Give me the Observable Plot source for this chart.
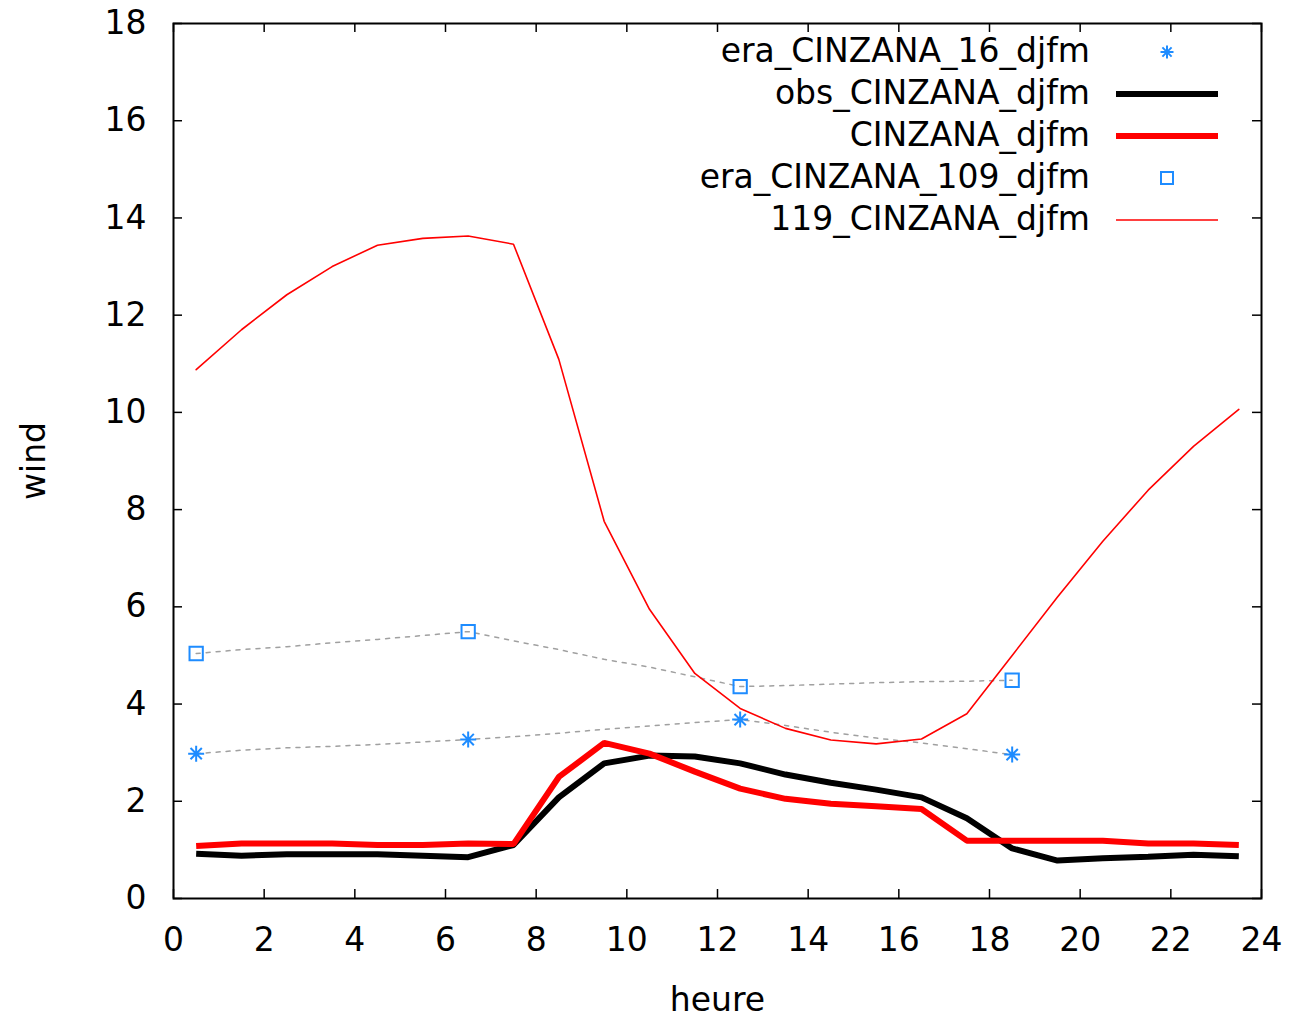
<!DOCTYPE html>
<html>
<head>
<meta charset="utf-8">
<script src="https://cdn.jsdelivr.net/npm/d3@7"></script>
<script src="https://cdn.jsdelivr.net/npm/@observablehq/plot@0.6"></script>
<style>
  body { margin: 0; background: #fff; }
  #chart svg { font-family: "DejaVu Sans", sans-serif; display: block; }
</style>
</head>
<body>
<div id="chart"></div>
<script>
// ---- data ----
const hours = [0.5, 1.5, 2.5, 3.5, 4.5, 5.5, 6.5, 7.5, 8.5, 9.5, 10.5, 11.5,
               12.5, 13.5, 14.5, 15.5, 16.5, 17.5, 18.5, 19.5, 20.5, 21.5, 22.5, 23.5];
const obsCinzana = [0.92, 0.88, 0.91, 0.91, 0.91, 0.88, 0.85, 1.10, 2.08, 2.78, 2.94, 2.92,
                    2.78, 2.55, 2.38, 2.24, 2.08, 1.65, 1.03, 0.78, 0.83, 0.86, 0.90, 0.87];
const cinzana = [1.08, 1.13, 1.13, 1.13, 1.10, 1.10, 1.13, 1.12, 2.50, 3.20, 2.98, 2.61,
                 2.26, 2.05, 1.95, 1.90, 1.84, 1.19, 1.19, 1.19, 1.19, 1.13, 1.13, 1.10];
const cinzana119 = [10.88, 11.70, 12.42, 13.00, 13.44, 13.58, 13.63, 13.46, 11.09, 7.76, 5.95, 4.63,
                    3.91, 3.50, 3.26, 3.18, 3.28, 3.80, 5.00, 6.20, 7.35, 8.40, 9.30, 10.06];

const eraHours = [0.5, 1.5, 2.5, 3.5, 4.5, 5.5, 6.5, 7.5, 8.5, 9.5, 10.5, 11.5,
                  12.5, 13.5, 14.5, 15.5, 16.5, 17.5, 18.5];
const era16Line = [2.98, 3.05, 3.10, 3.13, 3.17, 3.22, 3.27, 3.33, 3.40, 3.48, 3.55, 3.62,
                   3.68, 3.56, 3.42, 3.30, 3.20, 3.08, 2.96];
const era109Line = [5.04, 5.12, 5.18, 5.26, 5.33, 5.41, 5.49, 5.30, 5.12, 4.92, 4.76, 4.56,
                    4.36, 4.38, 4.41, 4.44, 4.46, 4.47, 4.49];

const markerHours = [0.5, 6.5, 12.5, 18.5];
const era16Markers = [2.98, 3.27, 3.68, 2.96];
const era109Markers = [5.04, 5.49, 4.36, 4.49];

const xTicks = [0, 2, 4, 6, 8, 10, 12, 14, 16, 18, 20, 22, 24];
const yTicks = [0, 2, 4, 6, 8, 10, 12, 14, 16, 18];

const legendLabels = ["era_CINZANA_16_djfm", "obs_CINZANA_djfm", "CINZANA_djfm",
                      "era_CINZANA_109_djfm", "119_CINZANA_djfm"];

// ---- helpers ----
const pts = (xs, ys) => xs.map((x, i) => ({x, y: ys[i]}));
const BLUE = "#1e8cff";
const W = 1296, H = 1018;
const mL = 173, mR = 35, mT = 23, mB = 120;
const frameW = W - mL - mR, frameH = H - mT - mB;
const FS = 33;

const asterisk = {
  draw(ctx, size) {
    const r = Math.sqrt(size / Math.PI);
    const d = r * Math.SQRT1_2;
    ctx.moveTo(-r, 0); ctx.lineTo(r, 0);
    ctx.moveTo(0, -r); ctx.lineTo(0, r);
    ctx.moveTo(-d, -d); ctx.lineTo(d, d);
    ctx.moveTo(-d, d); ctx.lineTo(d, -d);
  }
};

const plot = Plot.plot({
  width: W,
  height: H,
  marginLeft: mL,
  marginRight: mR,
  marginTop: mT,
  marginBottom: mB,
  style: {fontFamily: "DejaVu Sans", fontSize: FS + "px", background: "#fff", color: "#000"},
  x: {domain: [0, 24], ticks: xTicks},
  y: {domain: [0, 18], ticks: yTicks},
  marks: [
    // tick labels
    Plot.axisX(xTicks, {tickSize: 0, tickPadding: 29, fontSize: FS, label: null}),
    Plot.axisY(yTicks, {tickSize: 0, tickPadding: 27, fontSize: FS, label: null}),
    // inward ticks on all four sides
    Plot.tickX(xTicks, {x: d => d, insetTop: frameH - 9, stroke: "#000", strokeWidth: 1.5}),
    Plot.tickX(xTicks, {x: d => d, insetBottom: frameH - 9, stroke: "#000", strokeWidth: 1.5}),
    Plot.tickY(yTicks, {y: d => d, insetRight: frameW - 9, stroke: "#000", strokeWidth: 1.5}),
    Plot.tickY(yTicks, {y: d => d, insetLeft: frameW - 9, stroke: "#000", strokeWidth: 1.5}),
    // dotted era lines
    Plot.line(pts(eraHours, era109Line), {x: "x", y: "y", stroke: "#a0a0a0", strokeWidth: 1.5, strokeDasharray: "4,6"}),
    Plot.line(pts(eraHours, era16Line), {x: "x", y: "y", stroke: "#a0a0a0", strokeWidth: 1.5, strokeDasharray: "4,6"}),
    // era markers
    Plot.dot(pts(markerHours, era16Markers), {x: "x", y: "y", symbol: asterisk, r: 8, stroke: BLUE, strokeWidth: 2, fill: "none"}),
    Plot.dot(pts(markerHours, era109Markers), {x: "x", y: "y", symbol: "square", r: 7.5, stroke: BLUE, strokeWidth: 2, fill: "none"}),
    // obs
    Plot.line(pts(hours, obsCinzana), {x: "x", y: "y", stroke: "#000", strokeWidth: 6, strokeLinejoin: "miter", strokeLinecap: "butt"}),
    // model
    Plot.line(pts(hours, cinzana), {x: "x", y: "y", stroke: "#ff0000", strokeWidth: 6, strokeLinejoin: "miter", strokeLinecap: "butt"}),
    Plot.line(pts(hours, cinzana119), {x: "x", y: "y", stroke: "#ff0000", strokeWidth: 1.6}),
    // axis titles
    Plot.text(["heure"], {text: d => d, frameAnchor: "bottom", dy: 112, fontSize: FS, fill: "#000"}),
    Plot.text(["wind"], {text: d => d, frameAnchor: "left", textAnchor: "middle", dx: -139, rotate: -90, fontSize: FS, fill: "#000"}),
    Plot.frame({stroke: "#000", strokeWidth: 2})
  ]
});

document.getElementById("chart").append(plot);

// ---- legend (inside the frame, top-right) ----
const svg = d3.select(plot);
const g = svg.append("g").attr("font-family", "DejaVu Sans").attr("font-size", FS);
const textX = mL + frameW - 171;
const sx0 = mL + frameW - 145, sx1 = mL + frameW - 43, sxm = (sx0 + sx1) / 2;
const rowY = i => mT + 27 + 42 * i;
legendLabels.forEach((lab, i) => {
  const y = rowY(i);
  g.append("text").attr("x", textX).attr("y", y).attr("dy", "0.35em")
    .attr("text-anchor", "end").attr("fill", "#000").text(lab);
  if (i === 0) {
    g.append("path").attr("transform", `translate(${sxm},${y + 2})`)
      .attr("d", d3.symbol(asterisk, Math.PI * 6.5 * 6.5)())
      .attr("stroke", BLUE).attr("stroke-width", 2).attr("fill", "none");
  } else if (i === 3) {
    g.append("path").attr("transform", `translate(${sxm},${y + 2})`)
      .attr("d", d3.symbol(d3.symbolSquare, 12 * 12)())
      .attr("stroke", BLUE).attr("stroke-width", 2).attr("fill", "none");
  } else {
    const col = i === 1 ? "#000" : "#ff0000";
    const sw = i === 4 ? 1.6 : 6;
    g.append("line").attr("x1", sx0).attr("x2", sx1).attr("y1", y + 2).attr("y2", y + 2)
      .attr("stroke", col).attr("stroke-width", sw);
  }
});
</script>
</body>
</html>
